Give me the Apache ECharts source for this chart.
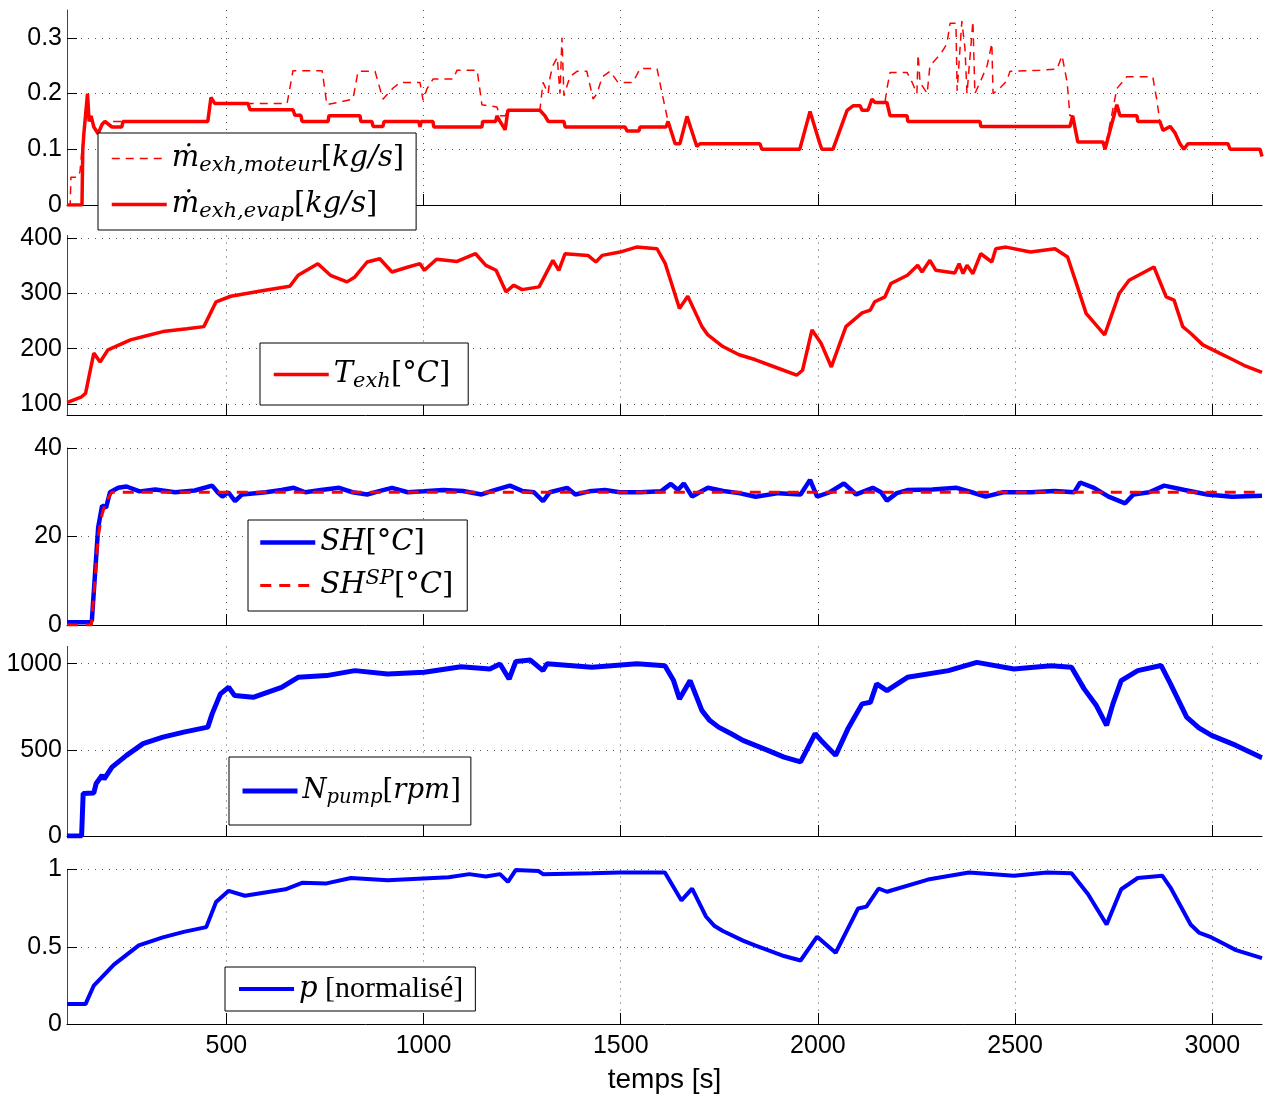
<!DOCTYPE html>
<html>
<head>
<meta charset="utf-8">
<script src="https://cdn.jsdelivr.net/npm/echarts@6/dist/echarts.min.js"></script>
<style>
  html, body { margin: 0; padding: 0; background: #fff; }
  #main { width: 1264px; height: 1095px; }
</style>
</head>
<body>
<div id="main"></div>
<script>
// valeurs : [temps (s), valeur]
const mMoteur = [[96,0],[104,0],[106,0.05],[124,0.05],[129,0.06],[134,0.1],[139,0.13],[148,0.2],[152,0.15],[157,0.16],[164,0.14],[175,0.13],[192,0.15],[453,0.15],[461,0.19],[471,0.182],[654,0.182],[669,0.241],[743,0.241],[755,0.18],[788,0.185],[821,0.19],[834,0.24],[877,0.24],[897,0.19],[923,0.21],[941,0.22],[991,0.22],[999,0.188],[1009,0.209],[1024,0.226],[1075,0.226],[1085,0.242],[1136,0.242],[1148,0.18],[1186,0.176],[1194,0.16],[1207,0.16],[1214,0.17],[1295,0.17],[1303,0.22],[1316,0.2],[1321,0.23],[1328,0.25],[1339,0.265],[1346,0.2],[1351,0.3],[1356,0.196],[1371,0.23],[1389,0.24],[1414,0.24],[1430,0.19],[1440,0.2],[1453,0.23],[1473,0.24],[1493,0.22],[1531,0.22],[1549,0.245],[1592,0.245],[1605,0.2],[1617,0.16],[1620,0.15],[1638,0.11],[1650,0.11],[1668,0.159],[1693,0.105],[1701,0.11],[1853,0.11],[1858,0.1],[1954,0.1],[1980,0.168],[2005,0.11],[2010,0.1],[2038,0.1],[2074,0.17],[2089,0.178],[2107,0.178],[2112,0.17],[2127,0.17],[2137,0.19],[2145,0.184],[2170,0.184],[2175,0.209],[2183,0.238],[2226,0.238],[2239,0.22],[2251,0.2],[2254,0.27],[2259,0.22],[2277,0.2],[2284,0.25],[2310,0.27],[2327,0.289],[2335,0.326],[2350,0.326],[2353,0.205],[2365,0.33],[2373,0.28],[2378,0.2],[2393,0.33],[2398,0.2],[2411,0.22],[2429,0.25],[2441,0.29],[2444,0.2],[2462,0.21],[2479,0.223],[2487,0.24],[2563,0.242],[2606,0.244],[2619,0.268],[2632,0.22],[2639,0.16],[2646,0.16],[2659,0.113],[2723,0.113],[2728,0.1],[2758,0.209],[2783,0.23],[2849,0.23],[2859,0.19],[2867,0.15],[2875,0.134],[2893,0.141],[2905,0.13],[2918,0.11],[2928,0.1],[2938,0.11],[3040,0.11],[3045,0.1],[3121,0.1],[3126,0.087]]

const mEvap = [[96,0],[134,0],[136,0.1],[139,0.13],[148,0.2],[152,0.15],[157,0.16],[164,0.14],[175,0.128],[185,0.145],[192,0.15],[210,0.14],[235,0.14],[238,0.15],[453,0.15],[461,0.193],[471,0.182],[555,0.182],[560,0.171],[669,0.171],[674,0.161],[689,0.161],[692,0.15],[758,0.15],[760,0.16],[839,0.16],[841,0.15],[869,0.15],[872,0.141],[897,0.141],[900,0.15],[988,0.15],[991,0.14],[994,0.15],[1024,0.15],[1026,0.14],[1148,0.14],[1150,0.15],[1183,0.15],[1186,0.16],[1194,0.15],[1207,0.135],[1214,0.17],[1295,0.17],[1308,0.16],[1316,0.15],[1356,0.15],[1359,0.14],[1511,0.14],[1516,0.133],[1546,0.133],[1549,0.14],[1615,0.14],[1620,0.15],[1638,0.11],[1650,0.11],[1668,0.159],[1693,0.105],[1701,0.11],[1853,0.11],[1858,0.1],[1954,0.1],[1980,0.168],[2005,0.11],[2010,0.1],[2038,0.1],[2074,0.17],[2089,0.178],[2107,0.178],[2112,0.17],[2127,0.17],[2137,0.19],[2145,0.184],[2175,0.184],[2183,0.16],[2226,0.16],[2228,0.15],[2411,0.15],[2413,0.141],[2639,0.141],[2646,0.16],[2659,0.113],[2723,0.113],[2728,0.1],[2758,0.18],[2766,0.16],[2809,0.16],[2811,0.15],[2867,0.15],[2875,0.134],[2893,0.141],[2905,0.13],[2918,0.11],[2928,0.1],[2938,0.11],[3040,0.11],[3045,0.1],[3121,0.1],[3126,0.087]]

const tExh = [[96,103],[102,104],[133,113],[143,119],[164,192],[180,176],[200,198],[257,216],[300,224],[339,231],[400,236],[443,240],[474,285],[511,295],[598,306],[661,313],[682,333],[732,354],[764,333],[806,321],[826,330],[857,357],[889,363],[920,339],[961,348],[991,354],[1002,342],[1033,362],[1085,358],[1132,372],[1158,351],[1184,342],[1209,303],[1229,315],[1250,307],[1293,312],[1328,360],[1343,342],[1359,372],[1417,369],[1437,357],[1453,369],[1498,375],[1540,384],[1592,381],[1613,354],[1649,273],[1670,295],[1706,240],[1721,225],[1759,204],[1800,189],[1842,180],[1894,166],[1946,152],[1961,161],[1985,234],[2008,210],[2034,167],[2071,240],[2112,265],[2133,270],[2144,285],[2170,294],[2185,318],[2227,333],[2253,351],[2264,339],[2284,360],[2299,342],[2347,337],[2358,354],[2368,336],[2378,351],[2393,336],[2413,372],[2441,357],[2451,381],[2477,384],[2539,375],[2601,381],[2633,366],[2654,321],[2680,264],[2727,225],[2764,300],[2789,324],[2852,348],[2883,294],[2903,288],[2925,240],[2945,228],[2976,207],[3018,192],[3050,181],[3080,170],[3126,157]]

const shMesure = [[96,0.6],[150,0.6],[159,1],[175,22],[185,27],[195,26.5],[205,30],[226,31],[247,31.3],[280,30.2],[320,30.6],[370,30],[420,30.4],[464,31.5],[478,30],[490,29],[505,30],[522,28],[540,29.5],[600,30],[640,30.5],[671,31],[700,30],[740,30.5],[786,31],[820,30],[857,29.5],[890,30.3],[920,31],[960,30],[1000,30.2],[1050,30.5],[1100,30.3],[1147,29.5],[1180,30.5],[1219,31.5],[1250,30.3],[1280,30],[1303,28],[1320,30],[1364,31],[1385,29.5],[1420,30.2],[1460,30.5],[1498,30],[1550,30],[1602,30.2],[1627,31.9],[1645,30.5],[1660,32],[1681,29],[1700,30],[1721,31],[1760,30.3],[1800,29.8],[1842,29],[1900,29.8],[1956,29.5],[1980,32.8],[1998,29],[2030,30],[2066,32],[2097,29.5],[2139,31],[2160,30],[2175,28.1],[2200,29.8],[2227,30.5],[2290,30.6],[2352,31],[2390,30],[2425,29],[2470,30],[2540,30],[2600,30.3],[2650,30],[2665,32.2],[2700,31],[2737,29],[2779,27.5],[2800,29.5],[2840,30],[2878,31.5],[2930,30.5],[2987,29.5],[3050,29],[3126,29.2]]

const shConsigne = [[96,0],[158,0],[165,8],[175,20],[185,25],[195,28],[210,30],[3126,30]]

const nPump = [[96,0],[133,0],[137,247],[164,250],[170,305],[185,353],[190,330],[210,400],[247,468],[289,536],[339,574],[392,603],[453,632],[464,709],[485,825],[506,863],[521,815],[568,805],[640,863],[682,921],[754,931],[826,960],[909,940],[1002,950],[1095,983],[1168,969],[1194,998],[1217,911],[1234,1013],[1271,1021],[1303,960],[1313,1000],[1427,980],[1541,1000],[1612,988],[1634,902],[1649,796],[1676,902],[1706,728],[1726,670],[1748,632],[1779,595],[1810,555],[1873,497],[1914,458],[1956,430],[1993,594],[2008,555],[2045,468],[2076,622],[2112,767],[2133,776],[2149,883],[2175,844],[2227,921],[2331,960],[2403,1008],[2497,969],[2591,988],[2643,980],[2675,854],[2706,757],[2732,642],[2748,767],[2769,902],[2811,960],[2870,990],[2894,883],[2935,690],[2966,628],[2998,584],[3060,526],[3122,458],[3126,455]]

const pNorm = [[96,0.129],[143,0.129],[164,0.249],[215,0.384],[278,0.509],[339,0.561],[392,0.596],[449,0.627],[474,0.789],[506,0.862],[547,0.83],[650,0.872],[692,0.914],[754,0.91],[816,0.945],[909,0.93],[1064,0.95],[1116,0.97],[1158,0.955],[1194,0.97],[1214,0.92],[1234,0.997],[1292,0.99],[1303,0.97],[1427,0.975],[1498,0.98],[1612,0.98],[1654,0.8],[1681,0.876],[1716,0.696],[1738,0.634],[1759,0.602],[1810,0.54],[1842,0.507],[1873,0.478],[1914,0.44],[1956,0.411],[1998,0.565],[2045,0.461],[2102,0.748],[2123,0.76],[2154,0.877],[2175,0.856],[2279,0.935],[2383,0.98],[2497,0.96],[2581,0.98],[2643,0.975],[2685,0.84],[2732,0.644],[2769,0.872],[2811,0.945],[2873,0.96],[2894,0.883],[2945,0.644],[2966,0.592],[2998,0.56],[3029,0.519],[3060,0.478],[3126,0.426]]

// graduations
const xTicks = [500, 1000, 1500, 2000, 2500, 3000]
const yTicks = [
  [0, 0.1, 0.2, 0.3],
  [100, 200, 300, 400],
  [0, 20, 40],
  [0, 500, 1000],
  [0, 0.5, 1]
]
const yRanges = [[0, 0.35], [80, 405], [0, 40], [0, 1100], [0, 1]]

const RED = '#ff0000'
const BLUE = '#0000ff'

const gridBoxes = [
  { top: 10, height: 195 },
  { top: 235.5, height: 179.5 },
  { top: 448, height: 177 },
  { top: 646.5, height: 189.5 },
  { top: 869.5, height: 160.5 }
]

const dotted = { color: '#555', width: 1, type: [1, 6] }

const legendText = {
  mMoteur: '{it|ṁ}{sub|exh,moteur}{rm|[}{it|kg/s}{rm|]}',
  mEvap: '{it|ṁ}{sub|exh,evap}{rm|[}{it|kg/s}{rm|]}',
  Texh: '{it|T}{sub|exh}{rm|[°}{it|C}{rm|]}',
  SH: '{it|SH}{rm|[°}{it|C}{rm|]}',
  SHSP: '{it|SH}{sup|SP}{rm|[°}{it|C}{rm|]}',
  Npump: '{it|N}{sub|pump}{rm|[}{it|rpm}{rm|]}',
  p: '{it|p}{tx| [normalisé]}'
}

const serif = 'DejaVu Serif, Liberation Serif, serif'
const timesLike = 'Liberation Serif, DejaVu Serif, serif'

function makeLegend(names, left, top, padding, size) {
  const fs = size || 29
  return {
    data: names,
    orient: 'vertical',
    left: left,
    top: top,
    padding: padding,
    itemGap: 11,
    itemWidth: 55,
    itemHeight: 14,
    selectedMode: false,
    backgroundColor: '#fff',
    borderColor: '#000',
    borderWidth: 1,
    borderRadius: 0,
    itemStyle: { opacity: 0 },
    lineStyle: { width: 'inherit' },
    formatter: function (name) {
      return legendText[name]
    },
    textStyle: {
      color: '#000',
      rich: {
        it: { fontFamily: serif, fontStyle: 'italic', fontSize: fs, lineHeight: 36, color: '#000' },
        rm: { fontFamily: serif, fontSize: fs, lineHeight: 36, color: '#000' },
        tx: { fontFamily: timesLike, fontSize: fs + 1, lineHeight: 36, color: '#000' },
        sub: { fontFamily: serif, fontStyle: 'italic', fontSize: fs - 8, lineHeight: 36, padding: [14, 0, 0, 0], color: '#000' },
        sup: { fontFamily: serif, fontStyle: 'italic', fontSize: fs - 8, lineHeight: 36, padding: [0, 0, 14, 0], color: '#000' }
      }
    }
  }
}

const grids = []
const xAxes = []
const yAxes = []
for (let i = 0; i < 5; i++) {
  grids.push({ left: 67, right: 2, top: gridBoxes[i].top, height: gridBoxes[i].height })
  xAxes.push({
    type: 'value',
    gridIndex: i,
    min: 96,
    max: 3126,
    axisLine: { show: true, onZero: false, lineStyle: { color: '#000', width: 1 } },
    axisTick: { show: true, inside: true, length: 11, customValues: xTicks, lineStyle: { color: '#000' } },
    axisLabel: {
      show: i === 4,
      customValues: xTicks,
      color: '#000',
      fontFamily: 'Liberation Sans, Arial, sans-serif',
      fontSize: 25,
      margin: 10,
      formatter: function (v) { return String(v) }
    },
    splitLine: { show: true, lineStyle: dotted },
    name: i === 4 ? 'temps [s]' : '',
    nameLocation: 'middle',
    nameGap: 42,
    nameTextStyle: { color: '#000', fontFamily: 'Liberation Sans, Arial, sans-serif', fontSize: 28 }
  })
  yAxes.push({
    type: 'value',
    gridIndex: i,
    min: yRanges[i][0],
    max: yRanges[i][1],
    axisLine: { show: true, lineStyle: { color: '#444', width: 1 } },
    axisTick: { show: true, inside: true, length: 10, customValues: yTicks[i], lineStyle: { color: '#000' } },
    axisLabel: {
      customValues: yTicks[i],
      color: '#000',
      fontFamily: 'Liberation Sans, Arial, sans-serif',
      fontSize: 25,
      margin: 5,
      formatter: function (v) { return String(v) }
    },
    splitLine: { show: true, lineStyle: dotted }
  })
}

function line(name, idx, data, color, width, type) {
  return {
    name: name,
    type: 'line',
    xAxisIndex: idx,
    yAxisIndex: idx,
    data: data,
    symbol: 'none',
    animation: false,
    clip: true,
    lineStyle: { color: color, width: width, type: type || 'solid' },
    itemStyle: { color: color }
  }
}

const chart = echarts.init(document.getElementById('main'), null, { renderer: 'canvas' })

var option = {
  backgroundColor: '#fff',
  animation: false,
  grid: grids,
  xAxis: xAxes,
  yAxis: yAxes,
  legend: [
    makeLegend(['mMoteur', 'mEvap'], 98, 133, [8, 12, 8, 12]),
    makeLegend(['Texh'], 260, 343, [14, 18, 13, 12]),
    makeLegend(['SH', 'SHSP'], 248, 520, [8, 14, 8, 10]),
    makeLegend(['Npump'], 229, 757, [17, 10, 17, 11], 27.5),
    makeLegend(['p'], 225, 967, [7, 12, 7, 12])
  ],
  series: [
    line('mMoteur', 0, mMoteur, RED, 1.5, [8, 6]),
    line('mEvap', 0, mEvap, RED, 3.5),
    line('Texh', 1, tExh, RED, 3.5),
    line('SH', 2, shMesure, BLUE, 4.5),
    line('SHSP', 2, shConsigne, RED, 3, [11, 8]),
    line('Npump', 3, nPump, BLUE, 5),
    line('p', 4, pNorm, BLUE, 4)
  ]
}

chart.setOption(option)
</script>
</body>
</html>
